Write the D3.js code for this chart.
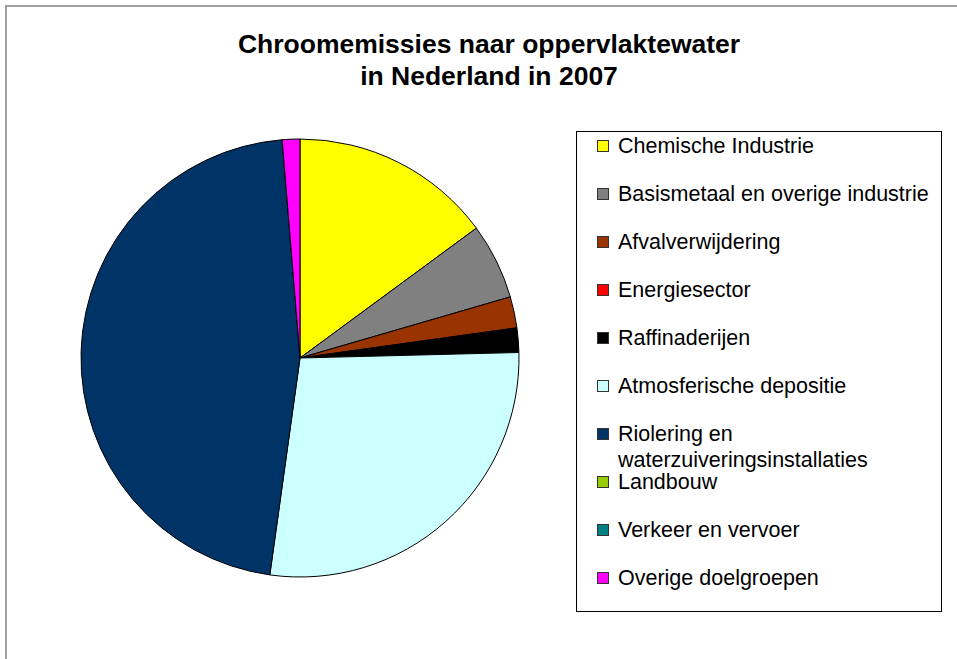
<!DOCTYPE html>
<html>
<head>
<meta charset="utf-8">
<script src="https://cdn.jsdelivr.net/npm/d3@7"></script>
<style>
  body { margin: 0; background: #fff; }
  svg text { font-family: "Liberation Sans", Arial, sans-serif; }
</style>
</head>
<body>
<div id="chart"></div>
<script>
// chart data (share of emissions, %)
const categories = [
  "Chemische Industrie",
  "Basismetaal en overige industrie",
  "Afvalverwijdering",
  "Energiesector",
  "Raffinaderijen",
  "Atmosferische depositie",
  "Riolering en waterzuiveringsinstallaties",
  "Landbouw",
  "Verkeer en vervoer",
  "Overige doelgroepen"
];
const values = [14.9, 5.6, 2.3, 0, 1.8, 27.6, 46.5, 0, 0, 1.3];
const colors = ["#ffff00", "#808080", "#993300", "#ff0000", "#000000",
                "#ccffff", "#003366", "#99cc00", "#008080", "#ff00ff"];
const titleLines = ["Chroomemissies naar oppervlaktewater", "in Nederland in 2007"];

const width = 957, height = 659;
const cx = 300, cy = 358, r = 219;

const svg = d3.select("#chart").append("svg")
    .attr("width", width)
    .attr("height", height);

// outer chart-area border (runs off the page right and bottom)
svg.append("rect")
    .attr("x", 6).attr("y", 6)
    .attr("width", 1200).attr("height", 1200)
    .attr("fill", "none")
    .attr("stroke", "#a0a0a0")
    .attr("stroke-width", 2);

// title
svg.append("g").selectAll("text")
    .data(titleLines)
    .enter().append("text")
    .attr("x", 489)
    .attr("y", (d, i) => 53 + i * 32)
    .attr("text-anchor", "middle")
    .attr("font-size", 26.5)
    .attr("font-weight", "bold")
    .text(d => d);

// pie
const pie = d3.pie().sort(null).value(d => d);
const arc = d3.arc().innerRadius(0).outerRadius(r);

svg.append("g")
    .attr("transform", "translate(" + cx + "," + cy + ")")
    .selectAll("path")
    .data(pie(values))
    .enter().append("path")
    .filter(d => d.data > 0)
    .attr("d", arc)
    .attr("fill", d => colors[d.index])
    .attr("stroke", "#000")
    .attr("stroke-width", 1)
    .attr("stroke-linejoin", "round");

// legend
const legX = 576, legY = 131, legW = 365, legH = 480;
const rowY = d3.scaleLinear().domain([0, categories.length - 1]).range([146, 578]);

const legend = svg.append("g");
legend.append("rect")
    .attr("x", legX + 0.5).attr("y", legY + 0.5)
    .attr("width", legW).attr("height", legH)
    .attr("fill", "#fff")
    .attr("stroke", "#000")
    .attr("stroke-width", 1);

const rows = legend.selectAll("g.row")
    .data(categories)
    .enter().append("g")
    .attr("class", "row")
    .attr("transform", (d, i) => "translate(0," + rowY(i) + ")");

rows.append("rect")
    .attr("x", 597.5).attr("y", -5.5)
    .attr("width", 11).attr("height", 11)
    .attr("fill", (d, i) => colors[i])
    .attr("stroke", "#333")
    .attr("stroke-width", 1);

rows.each(function(d) {
  const g = d3.select(this);
  const words = d.split(" ");
  const maxW = 318;
  let lines = [], cur = "";
  const probe = g.append("text").attr("font-size", 21.5);
  words.forEach(w => {
    const test = cur ? cur + " " + w : w;
    probe.text(test);
    if (probe.node().getComputedTextLength() > maxW && cur) {
      lines.push(cur);
      cur = w;
    } else {
      cur = test;
    }
  });
  lines.push(cur);
  probe.remove();
  g.selectAll("text.lbl")
    .data(lines)
    .enter().append("text")
    .attr("class", "lbl")
    .attr("x", 618)
    .attr("y", (l, i) => 7 + i * 26)
    .attr("font-size", 21.5)
    .text(l => l);
});
</script>
</body>
</html>
